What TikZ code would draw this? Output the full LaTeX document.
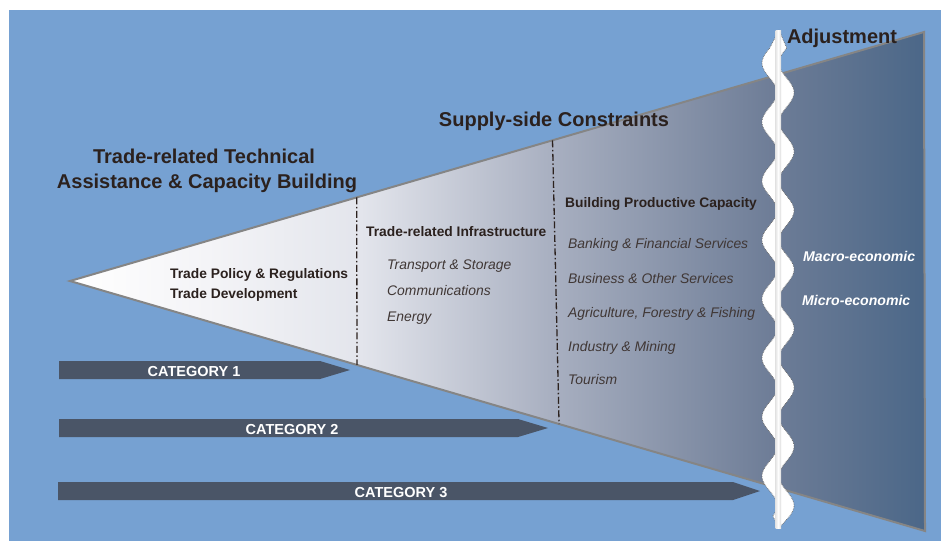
\documentclass[tikz,border=0pt]{standalone}
\usepackage{fontspec}
\setmainfont{Liberation Sans}
\usetikzlibrary{calc}

\definecolor{bgblue}{HTML}{76A1D2}
\definecolor{inkbrown}{HTML}{2B211E}
\definecolor{catgray}{HTML}{4A5567}
\definecolor{rimgray}{HTML}{858585}
\definecolor{fnA}{HTML}{FFFFFF}
\definecolor{fnB}{HTML}{F4F4F7}
\definecolor{fnC}{HTML}{E3E5EC}
\definecolor{fnD}{HTML}{A9B0C1}
\definecolor{fnE}{HTML}{6E7D97}
\definecolor{fnF}{HTML}{4B6788}

\pgfdeclarehorizontalshading{funnelshade}{100bp}{color(0bp)=(fnA); color(25bp)=(fnA); color(33bp)=(fnB); color(42bp)=(fnC); color(53bp)=(fnD); color(66bp)=(fnE); color(75bp)=(fnF); color(100bp)=(fnF)}

\tikzset{
	headtext/.style={font=\fontsize{20}{22}\selectfont\bfseries, text=inkbrown, inner sep=0pt},
	subhead/.style={font=\fontsize{13.8}{16}\selectfont\bfseries, text=inkbrown, inner sep=0pt, anchor=base west},
	itemtext/.style={font=\fontsize{13.9}{16}\selectfont\itshape, text=inkbrown!90, inner sep=0pt, anchor=base west},
	adjtext/.style={font=\fontsize{14.1}{16}\selectfont\bfseries\itshape, text=white, inner sep=0pt, anchor=base west},
	cattext/.style={font=\fontsize{14.5}{16}\selectfont\bfseries, text=white, inner sep=0pt, anchor=base},
	divider/.style={draw=inkbrown, line width=1.3pt, dash pattern=on 7pt off 2.5pt on 1.5pt off 2.5pt},
}

\begin{document}
\begin{tikzpicture}[x=1pt, y=-1pt]
	\useasboundingbox (0, 0) rectangle (941, 541);
	\fill[bgblue] (9, 10) rectangle (941, 541);

	% funnel
	\coordinate (apex) at (70, 281);
	\coordinate (tipTop) at (924, 32);
	\coordinate (tipBot) at (925, 531);
	\shade[shading=funnelshade, draw=rimgray, line width=2pt] (apex) -- (tipTop) -- (tipBot) -- cycle;

	\coordinate (cutOneT) at ($(apex)!0.3357!(tipTop)$);
	\coordinate (cutOneB) at ($(apex)!0.3357!(tipBot)$);
	\coordinate (cutTwoT) at ($(apex)!0.565!(tipTop)$);
	\coordinate (cutTwoB) at ($(apex)!0.572!(tipBot)$);
	\draw[divider] (cutOneT) -- (cutOneB);
	\draw[divider] (cutTwoT) -- (cutTwoB);

	% category arrows
	\foreach \yy/\xl/\xe/\xt/\num in {370/59/320/350/1, 428/59/518/548/2, 491/58/733/760/3} {
		\fill[catgray] (\xl, \yy-9) -- (\xe, \yy-9) -- (\xt, \yy) -- (\xe, \yy+9) -- (\xl, \yy+9) -- cycle;
	}
	\node[cattext] (cat1) at (194, 376) {CATEGORY 1};
	\node[cattext] (cat2) at (292, 434) {CATEGORY 2};
	\node[cattext] (cat3) at (401, 497) {CATEGORY 3};

	% headings
	\node[headtext, anchor=base] (tatcbA) at (204, 163) {Trade-related Technical};
	\node[headtext, anchor=base] (tatcbB) at (207, 188) {Assistance \& Capacity Building};
	\node[headtext, anchor=base] (supply) at (554, 126) {Supply-side Constraints};
	\node[headtext, anchor=base] (adjust) at (842, 43) {Adjustment};

	% first section
	\node[subhead] (policy) at (170, 278) {Trade Policy \& Regulations};
	\node[subhead] (develop) at (170, 298) {Trade Development};

	% second section
	\node[subhead] (infra) at (366, 236) {Trade-related Infrastructure};
	\node[itemtext] (transport) at (387, 269) {Transport \& Storage};
	\node[itemtext] (comms) at (387, 295) {Communications};
	\node[itemtext] (energy) at (387, 321) {Energy};

	% third section
	\node[subhead] (productive) at (565, 207) {Building Productive Capacity};
	\node[itemtext] (banking) at (568, 248) {Banking \& Financial Services};
	\node[itemtext] (business) at (568, 283) {Business \& Other Services};
	\node[itemtext] (agri) at (568, 317) {Agriculture, Forestry \& Fishing};
	\node[itemtext] (industry) at (568, 351) {Industry \& Mining};
	\node[itemtext] (tourism) at (568, 384) {Tourism};

	% adjustment side
	\node[adjtext] (macro) at (803, 261) {Macro-economic};
	\node[adjtext] (micro) at (802, 305) {Micro-economic};

	% wavy ribbon
	\filldraw[fill=white, draw=gray!80!black, line width=0.7pt, densely dotted]
		(779, 30) -- plot[variable=\t, domain=48:516, samples=300] ({769.5-7.5*cos(6.1017*(\t-122))}, \t)
		-- (779, 528)
		-- plot[variable=\t, domain=516:48, samples=300] ({786.5-7.5*cos(6.1017*(\t-122))}, \t) -- cycle;
	\shade[left color=gray!20, right color=gray!30, middle color=white] (775.5, 30) rectangle (781, 528);
\end{tikzpicture}
\end{document}
